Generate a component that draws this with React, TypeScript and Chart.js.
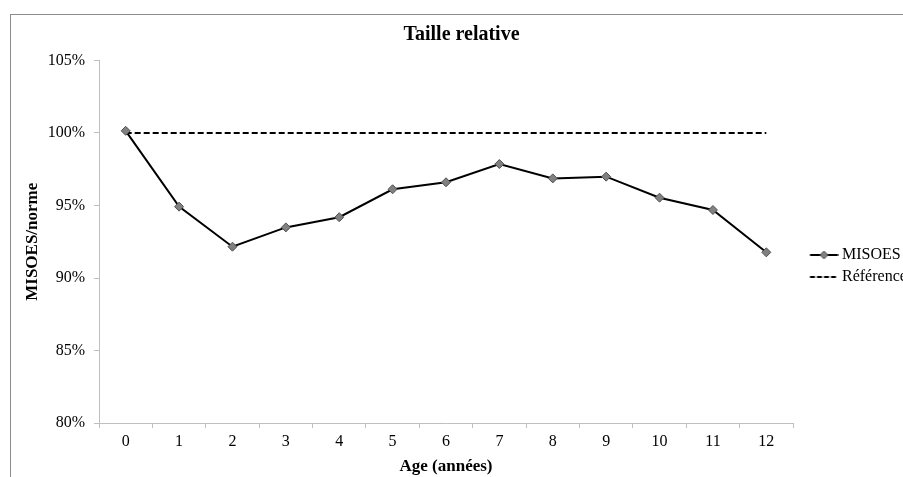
import { useEffect, useRef } from "react";
import { Chart, registerables } from "chart.js";

Chart.register(...registerables);

const ages = ["0", "1", "2", "3", "4", "5", "6", "7", "8", "9", "10", "11", "12"];
const misoes = [100.15, 94.92, 92.16, 93.49, 94.19, 96.12, 96.6, 97.86, 96.87, 96.99, 95.54, 94.69, 91.77];
const reference = [100, 100, 100, 100, 100, 100, 100, 100, 100, 100, 100, 100, 100];
const seriesNames = ["MISOES", "Référence"];
const chartTitle = "Taille relative";
const xTitle = "Age (années)";
const yTitle = "MISOES/norme";
const yMin = 80;
const yMax = 105;
const yStep = 5;

const FONT = "'Liberation Serif', 'Times New Roman', serif";
const AXIS_GRAY = "#bfbfbf";

function makeSwatch(kind: "marker" | "dash"): HTMLCanvasElement {
  const c = document.createElement("canvas");
  c.width = 44;
  c.height = 12;
  const g = c.getContext("2d")!;
  g.strokeStyle = "#000";
  g.lineWidth = 2;
  if (kind === "dash") g.setLineDash([5, 2]);
  g.beginPath();
  g.moveTo(15.5, 6);
  g.lineTo(43.5, 6);
  g.stroke();
  if (kind === "marker") {
    g.setLineDash([]);
    g.beginPath();
    g.moveTo(29.5, 2);
    g.lineTo(33.5, 6);
    g.lineTo(29.5, 10);
    g.lineTo(25.5, 6);
    g.closePath();
    g.fillStyle = "#808080";
    g.fill();
    g.lineWidth = 1;
    g.strokeStyle = "#505050";
    g.stroke();
  }
  return c;
}

const framePlugin = {
  id: "frame",
  beforeDraw(chart: any) {
    const { ctx, width, height } = chart;
    ctx.save();
    ctx.fillStyle = "#ffffff";
    ctx.fillRect(0, 0, width, height);
    ctx.strokeStyle = "#8c8c8c";
    ctx.lineWidth = 1;
    ctx.strokeRect(0.5, 0.5, width - 1, height - 1);
    ctx.restore();
  },
};

export default function App() {
  const ref = useRef<HTMLCanvasElement | null>(null);

  useEffect(() => {
    if (!ref.current) return;
    const swatches = [makeSwatch("marker"), makeSwatch("dash")];
    const chart = new Chart(ref.current, {
      type: "line",
      data: {
        labels: ages,
        datasets: [
          {
            label: seriesNames[0],
            data: misoes,
            borderColor: "#000",
            backgroundColor: "#808080",
            borderWidth: 2,
            tension: 0,
            pointStyle: "rectRot",
            pointRadius: 4.5,
            pointBackgroundColor: "#808080",
            pointBorderColor: "#505050",
            pointBorderWidth: 1,
          },
          {
            label: seriesNames[1],
            data: reference,
            borderColor: "#000",
            backgroundColor: "transparent",
            borderWidth: 2,
            borderDash: [6, 3],
            pointRadius: 0,
            tension: 0,
          },
        ],
      },
      options: {
        animation: false,
        responsive: false,
        maintainAspectRatio: false,
        layout: { padding: { left: 0, right: 0, top: 0, bottom: 0 } },
        plugins: {
          title: {
            display: true,
            text: chartTitle,
            color: "#000",
            font: { family: FONT, size: 20, weight: "bold", lineHeight: 1.2 },
            padding: { top: 9, bottom: 13.5 },
          },
          legend: {
            position: "right",
            align: "center",
            maxWidth: 120,
            labels: {
              usePointStyle: true,
              pointStyleWidth: 35,
              padding: 6,
              color: "#000",
              font: { family: FONT, size: 16 },
              generateLabels: (c: any) => {
                const items = (Chart.defaults.plugins.legend.labels as any).generateLabels(c);
                return items.map((it: any, i: number) => ({ ...it, pointStyle: swatches[i] }));
              },
            },
          },
          tooltip: { enabled: false },
        },
        scales: {
          x: {
            type: "category",
            offset: true,
            afterFit: (s: any) => {
              s.height = 95;
            },
            grid: {
              display: true,
              offset: true,
              drawOnChartArea: false,
              drawTicks: true,
              tickLength: 5,
              color: AXIS_GRAY,
            },
            border: { display: true, color: AXIS_GRAY, width: 1 },
            ticks: {
              color: "#000",
              padding: 4,
              maxRotation: 0,
              font: { family: FONT, size: 16 },
            },
            title: {
              display: true,
              text: xTitle,
              color: "#000",
              font: { family: FONT, size: 17, weight: "bold", lineHeight: 1.2 },
              padding: { top: 0, bottom: 41 },
            },
          },
          y: {
            min: yMin,
            max: yMax,
            afterFit: (s: any) => {
              s.width = 89;
            },
            grid: {
              display: true,
              drawOnChartArea: false,
              drawTicks: true,
              tickLength: 5,
              color: AXIS_GRAY,
            },
            border: { display: true, color: AXIS_GRAY, width: 1 },
            ticks: {
              stepSize: yStep,
              color: "#000",
              padding: 9,
              font: { family: FONT, size: 16 },
              callback: (v: any) => `${v}%`,
            },
            title: {
              display: true,
              text: yTitle,
              color: "#000",
              font: { family: FONT, size: 17, weight: "bold", lineHeight: 1.2 },
              padding: { top: 12.8, bottom: 0 },
            },
          },
        },
      },
      plugins: [framePlugin],
    } as any);
    return () => chart.destroy();
  }, []);

  return (
    <div
      style={{
        position: "fixed",
        left: 0,
        top: 0,
        width: 903,
        height: 477,
        overflow: "hidden",
        background: "#fff",
      }}
    >
      <canvas
        ref={ref}
        width={903}
        height={504}
        style={{ position: "absolute", left: 10, top: 14, width: 903, height: 504, display: "block" }}
      />
    </div>
  );
}
